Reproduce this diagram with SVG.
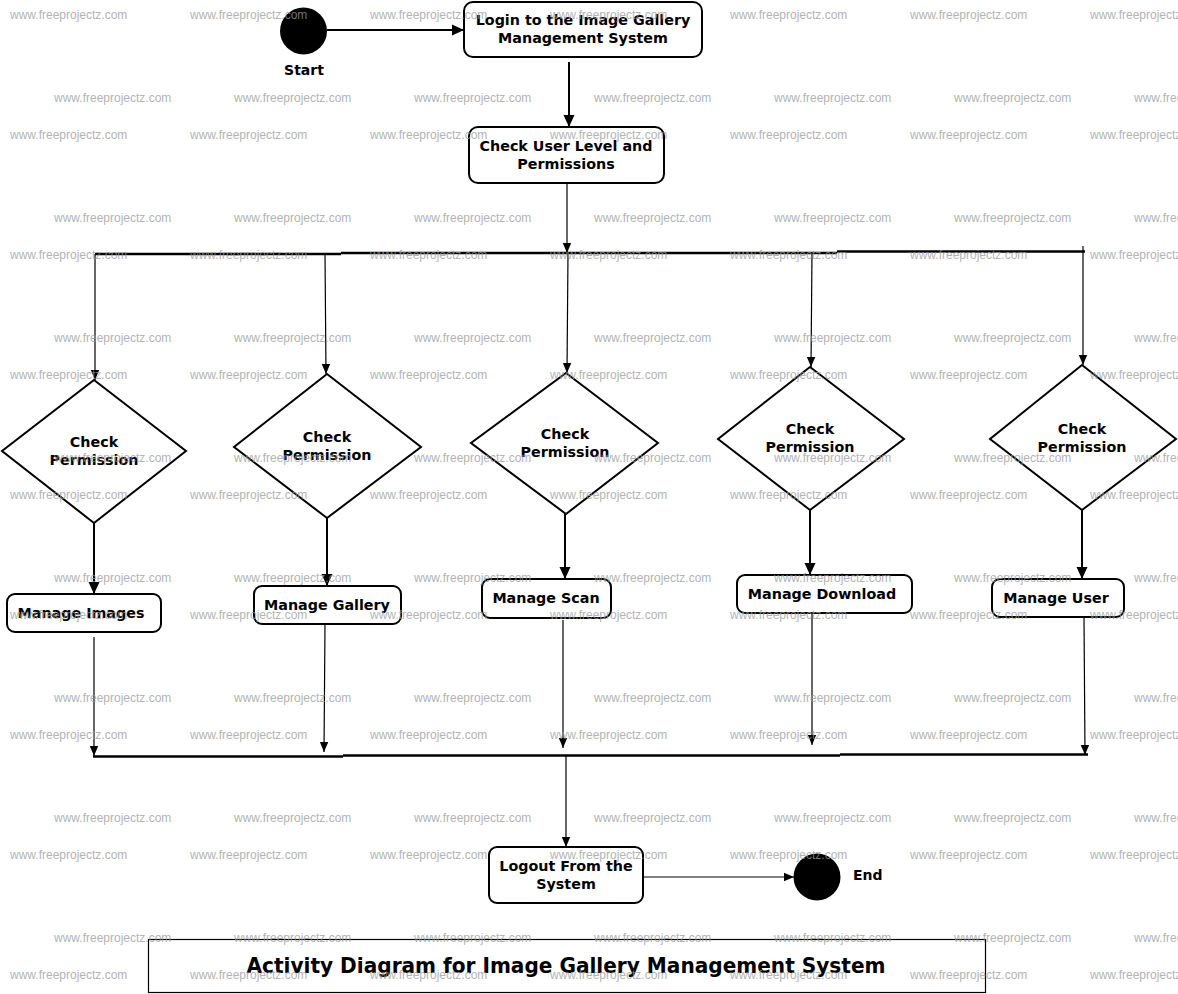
<svg xmlns="http://www.w3.org/2000/svg" width="1178" height="994" viewBox="0 0 1178 994">
<style>
.box{fill:#fff;stroke:#000;stroke-width:2}
.dia{fill:#fff;stroke:#000;stroke-width:2}
.t{font-family:"DejaVu Sans",sans-serif;font-weight:bold;font-size:14.3px;fill:#000;text-anchor:middle}
.lbl{font-family:"DejaVu Sans",sans-serif;font-weight:bold;font-size:14px;fill:#000}
.thick{stroke:#000;stroke-width:2;fill:none}
.thin{stroke:#000;stroke-width:1.2;fill:none}
.bar{stroke:#000;stroke-width:2.6;fill:none}
.wm{font-family:"Liberation Sans",Arial,sans-serif;font-size:12px;fill:#9a9a9a;opacity:0.75}
.title{font-family:"DejaVu Sans Condensed","DejaVu Sans",sans-serif;font-weight:bold;font-size:22px;fill:#000;text-anchor:middle}
</style>
<defs>
<marker id="big" markerUnits="userSpaceOnUse" markerWidth="12" markerHeight="12" refX="12" refY="6" orient="auto"><path d="M0,0.5 L12,6 L0,11.5 z" fill="#000"/></marker>
<marker id="small" markerUnits="userSpaceOnUse" markerWidth="10" markerHeight="10" refX="10" refY="5" orient="auto"><path d="M0,0.8 L10,5 L0,9.2 z" fill="#000"/></marker>
</defs>
<rect width="1178" height="994" fill="#fff"/>

<g id="start">
<circle cx="303.5" cy="31" r="23.5" fill="#000"/>
<text class="lbl" x="304" y="75" text-anchor="middle">Start</text>
</g>
<g id="login">
<rect class="box" x="464" y="2" width="238" height="55" rx="9"/>
<text class="t" x="583" y="25">Login to the Image Gallery</text>
<text class="t" x="583" y="43">Management System</text>
</g>
<g id="checkUser">
<rect class="box" x="469" y="127" width="195" height="56" rx="9"/>
<text class="t" x="566" y="151">Check User Level and</text>
<text class="t" x="566" y="169">Permissions</text>
</g>

<g id="perm1">
<polygon class="dia" points="94,380 186,451 94,523 2,451"/>
<text class="t" x="94" y="447">Check</text>
<text class="t" x="94" y="465">Permission</text>
</g>
<g id="perm2">
<polygon class="dia" points="327,374 421,447 327,518 234,447"/>
<text class="t" x="327" y="442">Check</text>
<text class="t" x="327" y="460">Permission</text>
</g>
<g id="perm3">
<polygon class="dia" points="566,373 658,443 566,514 471,443"/>
<text class="t" x="565" y="439">Check</text>
<text class="t" x="565" y="457">Permission</text>
</g>
<g id="perm4">
<polygon class="dia" points="810,367 904,439 810,510 718,439"/>
<text class="t" x="810" y="434">Check</text>
<text class="t" x="810" y="452">Permission</text>
</g>
<g id="perm5">
<polygon class="dia" points="1082,365 1176,439 1082,510 990,439"/>
<text class="t" x="1082" y="434">Check</text>
<text class="t" x="1082" y="452">Permission</text>
</g>

<g id="manageImages">
<rect class="box" x="7" y="594" width="154" height="38" rx="8"/>
<text class="t" x="81" y="618">Manage Images</text>
</g>
<g id="manageGallery">
<rect class="box" x="254" y="586" width="147" height="38" rx="8"/>
<text class="t" x="327" y="610">Manage Gallery</text>
</g>
<g id="manageScan">
<rect class="box" x="482" y="579" width="129" height="39" rx="8"/>
<text class="t" x="546" y="603">Manage Scan</text>
</g>
<g id="manageDownload">
<rect class="box" x="737" y="575" width="175" height="38" rx="8"/>
<text class="t" x="822" y="599">Manage Download</text>
</g>
<g id="manageUser">
<rect class="box" x="992" y="579" width="132" height="38" rx="8"/>
<text class="t" x="1056" y="603">Manage User</text>
</g>

<g id="logout">
<rect class="box" x="489" y="847" width="154" height="56" rx="8"/>
<text class="t" x="566" y="871">Logout From the</text>
<text class="t" x="566" y="889">System</text>
</g>
<g id="end">
<circle cx="817" cy="877" r="23.5" fill="#000"/>
<text class="lbl" x="853" y="880">End</text>
</g>

<g id="connectors">
<line class="thick" x1="327" y1="30" x2="464" y2="30" marker-end="url(#big)"/>
<line class="thick" x1="569" y1="62" x2="569" y2="127" marker-end="url(#big)"/>
<line class="thin" x1="567" y1="183" x2="567" y2="253" marker-end="url(#small)"/>
<path class="bar" d="M95 254 H341 M341 253 H837 M837 251.5 H1085"/>
<path class="thin" d="M1083 246 V252"/>
<line class="thin" x1="95" y1="254" x2="95" y2="380" marker-end="url(#small)"/>
<line class="thin" x1="325" y1="254" x2="326" y2="374" marker-end="url(#small)"/>
<line class="thin" x1="568" y1="253" x2="567" y2="373" marker-end="url(#small)"/>
<line class="thin" x1="812" y1="252" x2="811" y2="367" marker-end="url(#small)"/>
<line class="thin" x1="1083" y1="252" x2="1083" y2="365" marker-end="url(#small)"/>
<line class="thick" x1="94" y1="523" x2="94" y2="594" marker-end="url(#big)"/>
<line class="thick" x1="327" y1="518" x2="327" y2="586" marker-end="url(#big)"/>
<line class="thick" x1="565" y1="514" x2="565" y2="579" marker-end="url(#big)"/>
<line class="thick" x1="810" y1="510" x2="810" y2="575" marker-end="url(#big)"/>
<line class="thick" x1="1082" y1="510" x2="1082" y2="579" marker-end="url(#big)"/>
<line class="thin" x1="94" y1="637" x2="94" y2="756" marker-end="url(#small)"/>
<line class="thin" x1="325" y1="624" x2="324" y2="752" marker-end="url(#small)"/>
<line class="thin" x1="563" y1="620" x2="563" y2="748" marker-end="url(#small)"/>
<line class="thin" x1="812" y1="613" x2="812" y2="745" marker-end="url(#small)"/>
<line class="thin" x1="1084" y1="617" x2="1085" y2="755" marker-end="url(#small)"/>
<path class="bar" d="M93 756.5 H343 M343 755.5 H840 M840 754.5 H1088"/>
<line class="thin" x1="566" y1="756" x2="566" y2="847" marker-end="url(#small)"/>
<line class="thin" x1="643" y1="877" x2="794" y2="877" marker-end="url(#small)"/>
</g>

<g id="title">
<rect x="148.5" y="939.5" width="837" height="53" fill="none" stroke="#000" stroke-width="1.2"/>
<text class="title" x="566" y="973" textLength="639" lengthAdjust="spacingAndGlyphs">Activity Diagram for Image Gallery Management System</text>
</g>

<g id="watermarks" class="wm">
<text x="10" y="19">www.freeprojectz.com</text><text x="190" y="19">www.freeprojectz.com</text><text x="370" y="19">www.freeprojectz.com</text><text x="550" y="19">www.freeprojectz.com</text><text x="730" y="19">www.freeprojectz.com</text><text x="910" y="19">www.freeprojectz.com</text><text x="1090" y="19">www.freeprojectz.com</text>
<text x="54" y="102">www.freeprojectz.com</text><text x="234" y="102">www.freeprojectz.com</text><text x="414" y="102">www.freeprojectz.com</text><text x="594" y="102">www.freeprojectz.com</text><text x="774" y="102">www.freeprojectz.com</text><text x="954" y="102">www.freeprojectz.com</text><text x="1134" y="102">www.freeprojectz.com</text>
<text x="10" y="139">www.freeprojectz.com</text><text x="190" y="139">www.freeprojectz.com</text><text x="370" y="139">www.freeprojectz.com</text><text x="550" y="139">www.freeprojectz.com</text><text x="730" y="139">www.freeprojectz.com</text><text x="910" y="139">www.freeprojectz.com</text><text x="1090" y="139">www.freeprojectz.com</text>
<text x="54" y="222">www.freeprojectz.com</text><text x="234" y="222">www.freeprojectz.com</text><text x="414" y="222">www.freeprojectz.com</text><text x="594" y="222">www.freeprojectz.com</text><text x="774" y="222">www.freeprojectz.com</text><text x="954" y="222">www.freeprojectz.com</text><text x="1134" y="222">www.freeprojectz.com</text>
<text x="10" y="259">www.freeprojectz.com</text><text x="190" y="259">www.freeprojectz.com</text><text x="370" y="259">www.freeprojectz.com</text><text x="550" y="259">www.freeprojectz.com</text><text x="730" y="259">www.freeprojectz.com</text><text x="910" y="259">www.freeprojectz.com</text><text x="1090" y="259">www.freeprojectz.com</text>
<text x="54" y="342">www.freeprojectz.com</text><text x="234" y="342">www.freeprojectz.com</text><text x="414" y="342">www.freeprojectz.com</text><text x="594" y="342">www.freeprojectz.com</text><text x="774" y="342">www.freeprojectz.com</text><text x="954" y="342">www.freeprojectz.com</text><text x="1134" y="342">www.freeprojectz.com</text>
<text x="10" y="379">www.freeprojectz.com</text><text x="190" y="379">www.freeprojectz.com</text><text x="370" y="379">www.freeprojectz.com</text><text x="550" y="379">www.freeprojectz.com</text><text x="730" y="379">www.freeprojectz.com</text><text x="910" y="379">www.freeprojectz.com</text><text x="1090" y="379">www.freeprojectz.com</text>
<text x="54" y="462">www.freeprojectz.com</text><text x="234" y="462">www.freeprojectz.com</text><text x="414" y="462">www.freeprojectz.com</text><text x="594" y="462">www.freeprojectz.com</text><text x="774" y="462">www.freeprojectz.com</text><text x="954" y="462">www.freeprojectz.com</text><text x="1134" y="462">www.freeprojectz.com</text>
<text x="10" y="499">www.freeprojectz.com</text><text x="190" y="499">www.freeprojectz.com</text><text x="370" y="499">www.freeprojectz.com</text><text x="550" y="499">www.freeprojectz.com</text><text x="730" y="499">www.freeprojectz.com</text><text x="910" y="499">www.freeprojectz.com</text><text x="1090" y="499">www.freeprojectz.com</text>
<text x="54" y="582">www.freeprojectz.com</text><text x="234" y="582">www.freeprojectz.com</text><text x="414" y="582">www.freeprojectz.com</text><text x="594" y="582">www.freeprojectz.com</text><text x="774" y="582">www.freeprojectz.com</text><text x="954" y="582">www.freeprojectz.com</text><text x="1134" y="582">www.freeprojectz.com</text>
<text x="10" y="619">www.freeprojectz.com</text><text x="190" y="619">www.freeprojectz.com</text><text x="370" y="619">www.freeprojectz.com</text><text x="550" y="619">www.freeprojectz.com</text><text x="730" y="619">www.freeprojectz.com</text><text x="910" y="619">www.freeprojectz.com</text><text x="1090" y="619">www.freeprojectz.com</text>
<text x="54" y="702">www.freeprojectz.com</text><text x="234" y="702">www.freeprojectz.com</text><text x="414" y="702">www.freeprojectz.com</text><text x="594" y="702">www.freeprojectz.com</text><text x="774" y="702">www.freeprojectz.com</text><text x="954" y="702">www.freeprojectz.com</text><text x="1134" y="702">www.freeprojectz.com</text>
<text x="10" y="739">www.freeprojectz.com</text><text x="190" y="739">www.freeprojectz.com</text><text x="370" y="739">www.freeprojectz.com</text><text x="550" y="739">www.freeprojectz.com</text><text x="730" y="739">www.freeprojectz.com</text><text x="910" y="739">www.freeprojectz.com</text><text x="1090" y="739">www.freeprojectz.com</text>
<text x="54" y="822">www.freeprojectz.com</text><text x="234" y="822">www.freeprojectz.com</text><text x="414" y="822">www.freeprojectz.com</text><text x="594" y="822">www.freeprojectz.com</text><text x="774" y="822">www.freeprojectz.com</text><text x="954" y="822">www.freeprojectz.com</text><text x="1134" y="822">www.freeprojectz.com</text>
<text x="10" y="859">www.freeprojectz.com</text><text x="190" y="859">www.freeprojectz.com</text><text x="370" y="859">www.freeprojectz.com</text><text x="550" y="859">www.freeprojectz.com</text><text x="730" y="859">www.freeprojectz.com</text><text x="910" y="859">www.freeprojectz.com</text><text x="1090" y="859">www.freeprojectz.com</text>
<text x="54" y="942">www.freeprojectz.com</text><text x="234" y="942">www.freeprojectz.com</text><text x="414" y="942">www.freeprojectz.com</text><text x="594" y="942">www.freeprojectz.com</text><text x="774" y="942">www.freeprojectz.com</text><text x="954" y="942">www.freeprojectz.com</text><text x="1134" y="942">www.freeprojectz.com</text>
<text x="10" y="979">www.freeprojectz.com</text><text x="190" y="979">www.freeprojectz.com</text><text x="370" y="979">www.freeprojectz.com</text><text x="550" y="979">www.freeprojectz.com</text><text x="730" y="979">www.freeprojectz.com</text><text x="910" y="979">www.freeprojectz.com</text><text x="1090" y="979">www.freeprojectz.com</text>
</g>
</svg>
